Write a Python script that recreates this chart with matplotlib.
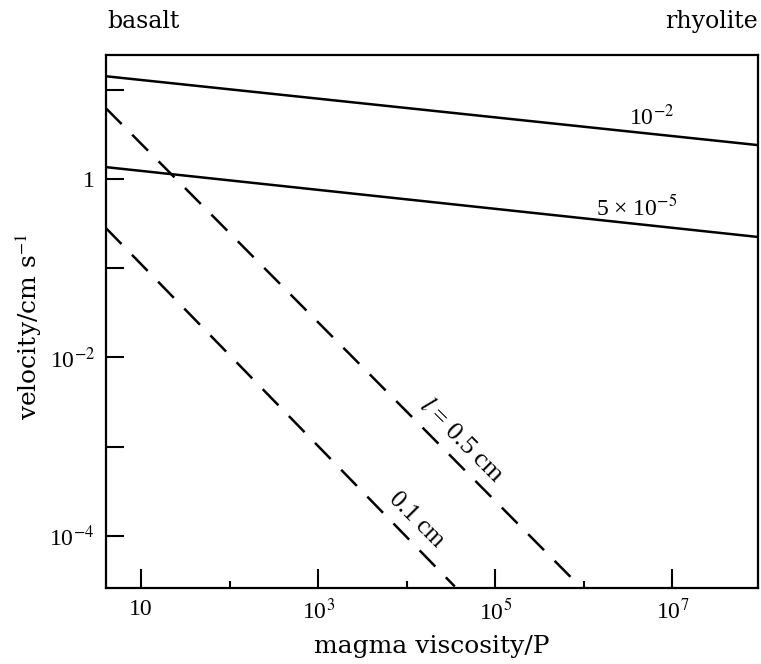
import matplotlib
matplotlib.use("Agg")
import matplotlib.pyplot as plt
from matplotlib.ticker import FixedLocator, NullFormatter

plt.rcParams['font.family'] = ['Liberation Serif', 'DejaVu Serif']
plt.rcParams['mathtext.fontset'] = 'stix'

# viscosity range shown (P) and velocities (cm/s) read at both ends
visc_ends = [4.0, 9.3e7]
vel_1e2 = [14.2, 2.40]        # solid line labelled 10^-2
vel_5e5 = [1.36, 0.224]       # solid line labelled 5 x 10^-5

# dashed lines: (viscosity, velocity) at left edge and where they hit the bottom
visc_l05 = [4.0, 9.1e5]
vel_l05 = [6.24, 2.7e-5]
visc_l01 = [4.0, 3.5e4]
vel_l01 = [0.283, 2.7e-5]

x_major = [10, 1e3, 1e5, 1e7]
x_major_labels = ['10', '10$^3$', '10$^5$', '10$^7$']
x_minor = [1e2, 1e4, 1e6]
y_major = [1, 1e-2, 1e-4]
y_major_labels = ['1', '10$^{-2}$', '10$^{-4}$']
y_minor = [10, 1e-1, 1e-3]

wide = ['DejaVu Serif']

fig = plt.figure(figsize=(7.61, 6.64), dpi=100)
ax = fig.add_axes([0.139, 0.1145, 0.857, 0.8025])
ax.set_xscale('log')
ax.set_yscale('log')
ax.set_xlim(visc_ends[0], visc_ends[1])
ax.set_ylim(2.6e-5, 24.5)

ax.plot(visc_ends, vel_1e2, color='black', lw=1.8)
ax.plot(visc_ends, vel_5e5, color='black', lw=1.8)
ax.plot(visc_l05, vel_l05, color='black', lw=1.8, dashes=(9, 6))
ax.plot(visc_l01, vel_l01, color='black', lw=1.8, dashes=(9, 6))

# line labels
ax.text(5.9e6, 4.95, '10$^{-2}$', fontsize=17, ha='center', va='center')
ax.text(4.0e6, 0.485, '5 × 10$^{-5}$', fontsize=17, ha='center', va='center')
ax.text(4.2e4, 1.16e-3, '$l$ = 0.5 cm', fontsize=19, ha='center', va='center',
        rotation=-45, rotation_mode='anchor')
ax.text(1.3e4, 1.5e-4, '0.1 cm', fontsize=18, ha='center', va='center',
        rotation=-45, rotation_mode='anchor')

ax.xaxis.set_major_locator(FixedLocator(x_major))
ax.set_xticklabels(x_major_labels)
ax.xaxis.set_minor_locator(FixedLocator(x_minor))
ax.xaxis.set_minor_formatter(NullFormatter())
ax.yaxis.set_major_locator(FixedLocator(y_major))
ax.set_yticklabels(y_major_labels)
ax.yaxis.set_minor_locator(FixedLocator(y_minor))
ax.yaxis.set_minor_formatter(NullFormatter())

ax.tick_params(axis='x', which='major', direction='in', length=14, width=1.5,
               labelsize=17, pad=8)
ax.tick_params(axis='x', which='minor', direction='in', length=5, width=1.5)
ax.tick_params(axis='y', which='both', direction='in', length=13, width=1.5,
               labelsize=17, pad=8)
for s in ax.spines.values():
    s.set_linewidth(1.6)

ax.set_xlabel('magma viscosity/P', fontsize=18, family=wide)
ax.xaxis.set_label_coords(0.5, -0.088)
ax.set_ylabel('velocity/cm s$^{-1}$', fontsize=18, family=wide)
ax.yaxis.set_label_coords(-0.095, 0.49)

fig.text(0.141, 0.968, 'basalt', fontsize=17, ha='left', va='center', family=wide)
fig.text(0.996, 0.967, 'rhyolite', fontsize=17, ha='right', va='center', family=wide)

fig.savefig('out.png', dpi=100)
